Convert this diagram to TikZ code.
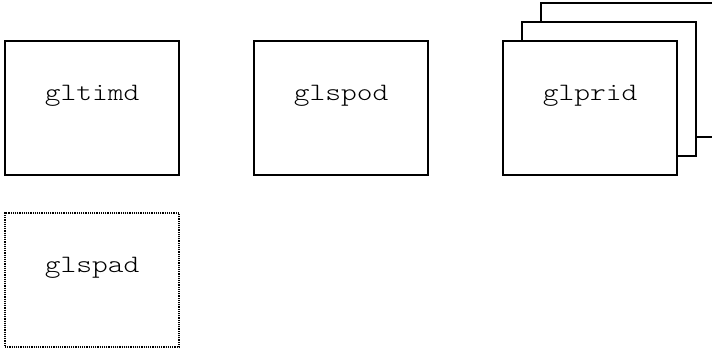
\documentclass[tikz,border=0pt]{standalone}
\usepackage{fontspec}
\setmonofont{lmmonolt10-regular.otf}[FakeStretch=1.2]
\usetikzlibrary{positioning,shadows}

\begin{document}
\begin{tikzpicture}[x=1pt,y=1pt,font=\ttfamily\fontsize{25}{29}\selectfont,line width=1.3pt,
  box/.style={draw,fill=white,inner sep=0pt,outer sep=0pt,minimum width=174pt,text height=60pt,text depth=74pt},
  stackbox/.style={box,double copy shadow={shadow xshift=19pt,shadow yshift=19pt}},
  dotbox/.style={box,line width=1.2pt,dash pattern=on 1.2pt off 1pt}]
\useasboundingbox (0,0) rectangle (712,-352);
\node[box] (timd) at (92,-108) {gltimd};
\node[box,right=75pt of timd] (spod) {glspod};
\node[stackbox,right=75pt of spod] (prid) {glprid};
\node[dotbox,below=38pt of timd] (spad) {glspad};
\end{tikzpicture}
\end{document}
